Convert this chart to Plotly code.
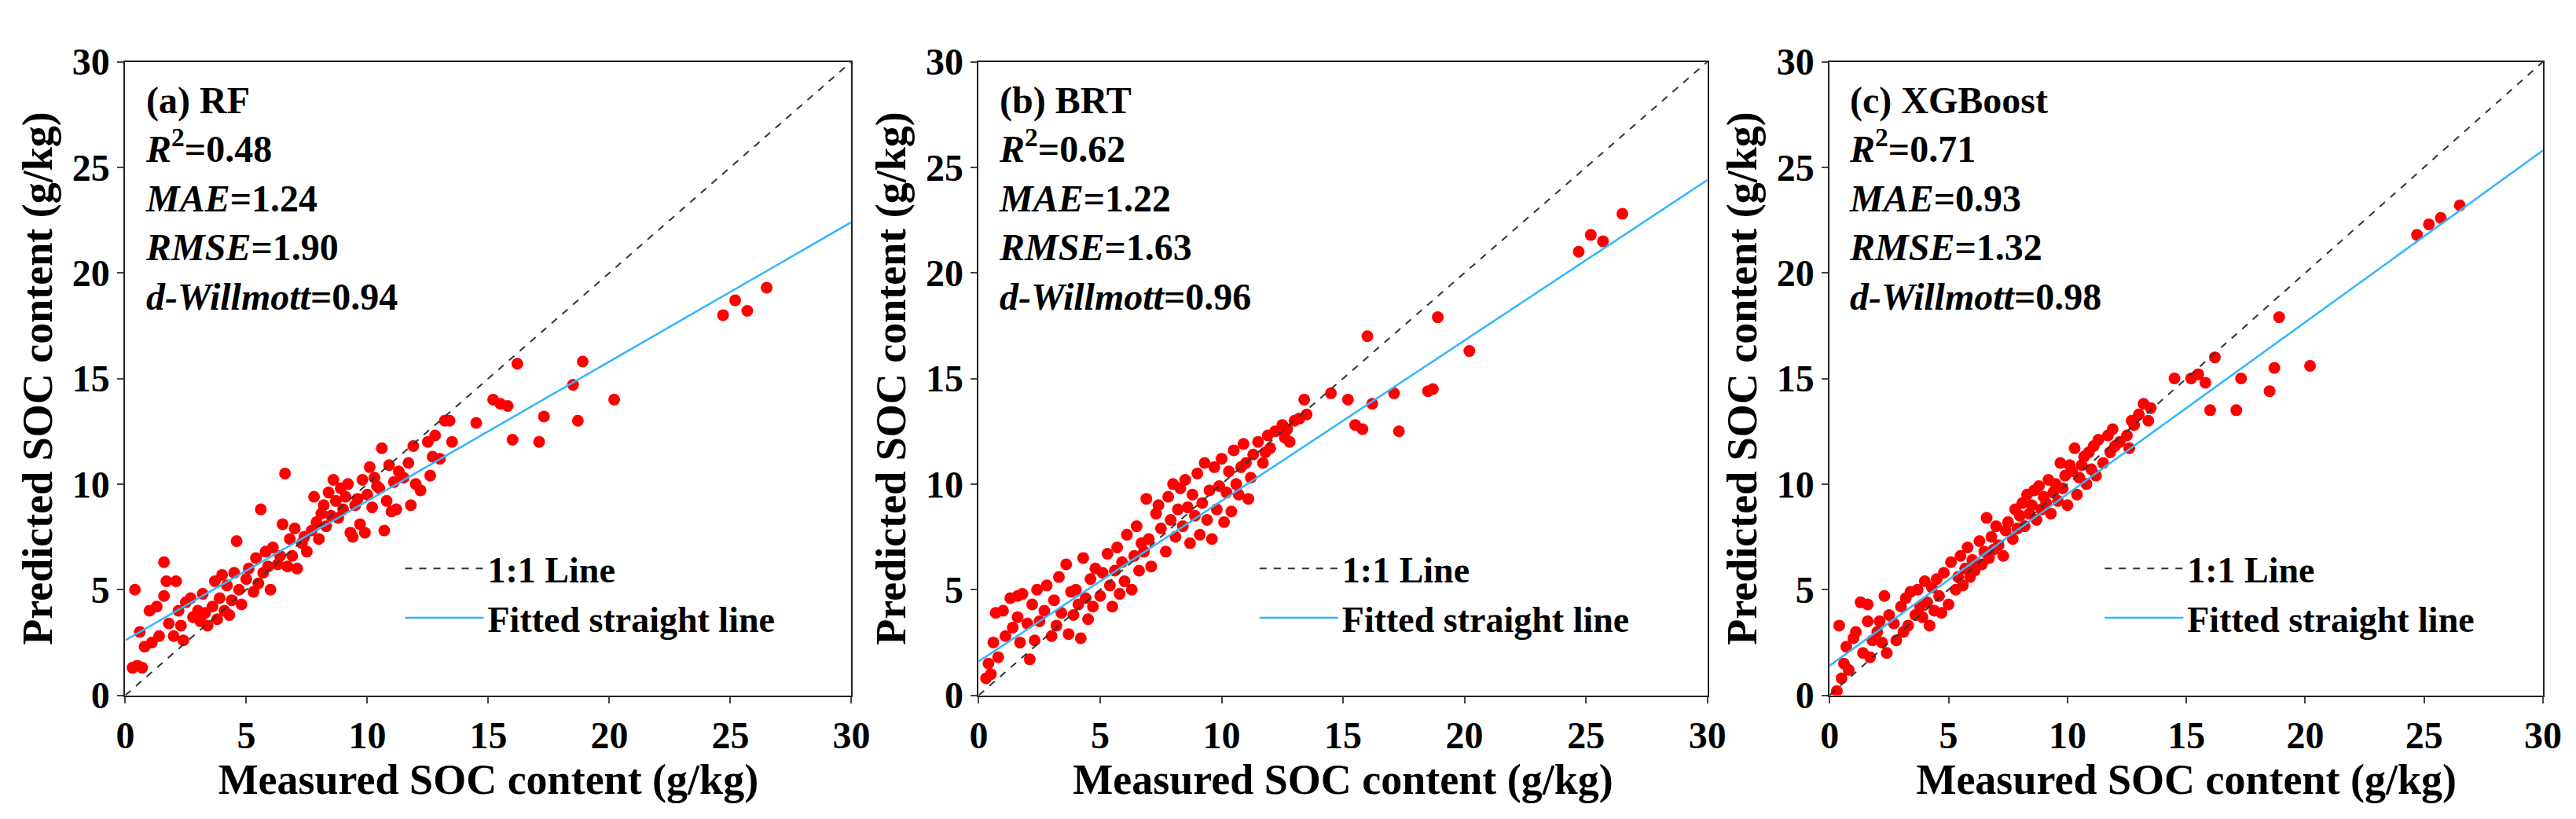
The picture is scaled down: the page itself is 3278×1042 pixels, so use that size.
import plotly.graph_objects as go
from plotly.subplots import make_subplots

# measured SOC (shared test set) and predictions per model
measured = [0.3, 0.4, 0.5, 0.6, 0.7, 0.8, 1.0, 1.1, 1.3, 1.4, 1.6, 1.6, 1.7, 1.8, 2.0, 2.1, 2.2, 2.3, 2.4, 2.5,
            2.7, 2.8, 3.0, 3.1, 3.2, 3.3, 3.4, 3.6, 3.7, 3.8, 3.9, 4.0, 4.1, 4.2, 4.3, 4.4, 4.5, 4.6, 4.7, 4.8,
            5.0, 5.1, 5.3, 5.4, 5.5, 5.6, 5.7, 5.8, 5.9, 6.0, 6.1, 6.3, 6.4, 6.5, 6.6, 6.7, 6.8, 6.9, 7.0, 7.1,
            7.3, 7.4, 7.5, 7.7, 7.8, 7.9, 8.0, 8.1, 8.2, 8.3, 8.4, 8.5, 8.6, 8.7, 8.8, 8.9, 9.0, 9.1, 9.2, 9.3,
            9.4, 9.5, 9.6, 9.7, 9.8, 9.9, 10.0, 10.1, 10.2, 10.3, 10.4, 10.5, 10.6, 10.7, 10.8, 10.9, 11.0, 11.1, 11.2, 11.3,
            11.5, 11.7, 11.8, 11.9, 12.0, 12.2, 12.5, 12.6, 12.7, 12.8, 13.0, 13.2, 13.4, 13.5, 14.5, 15.2, 15.5, 15.8, 16.0, 16.2,
            17.1, 17.3, 18.5, 18.7, 18.9, 20.2, 24.7, 25.2, 25.7, 26.5]
pred_rf = [1.3, 5.0, 1.4, 3.0, 1.3, 2.3, 4.0, 2.5, 4.2, 2.8, 6.3, 4.7, 5.4, 3.4, 2.8, 5.4, 4.0, 3.3, 2.6, 4.4,
           4.6, 3.7, 4.0, 3.5, 4.8, 3.9, 3.3, 4.2, 5.4, 3.6, 4.6, 5.7, 4.0, 5.2, 3.8, 4.5, 5.8, 7.3, 5.0, 4.3,
           5.5, 6.0, 4.9, 6.5, 5.3, 8.8, 5.8, 6.8, 6.1, 5.0, 7.0, 6.2, 6.6, 8.1, 10.5, 6.1, 7.4, 6.6, 7.9, 6.0,
           7.2, 7.5, 6.8, 7.8, 9.4, 8.2, 7.4, 8.6, 9.0, 8.0, 9.6, 8.5, 10.2, 9.2, 8.4, 9.8, 8.8, 9.4, 10.0, 7.7,
           7.5, 9.0, 9.3, 8.1, 10.2, 7.7, 9.5, 10.8, 8.9, 10.3, 9.9, 9.8, 11.7, 7.8, 9.2, 10.9, 8.7, 10.1, 8.8, 10.6,
           10.3, 11.0, 9.0, 11.8, 10.0, 9.7, 12.0, 10.4, 11.3, 12.3, 11.2, 13.0, 13.0, 12.0, 12.9, 14.0, 13.8, 13.7, 12.1, 15.7,
           12.0, 13.2, 14.7, 13.0, 15.8, 14.0, 18.0, 18.7, 18.2, 19.3]
pred_brt = [0.8, 1.5, 1.0, 2.5, 3.9, 1.8, 4.0, 2.8, 4.6, 3.2, 4.7, 3.7, 2.5, 4.8, 3.4, 1.7, 4.3, 2.6, 5.0, 3.5,
            4.0, 5.2, 2.8, 4.5, 3.3, 5.6, 3.9, 6.2, 2.9, 4.9, 3.8, 5.0, 4.3, 2.7, 6.5, 4.6, 3.6, 5.5, 4.2, 6.0,
            4.7, 5.8, 6.7, 5.2, 4.2, 5.9, 7.0, 4.8, 6.3, 5.4, 7.6, 5.0, 6.6, 8.0, 5.9, 7.2, 6.8, 9.3, 7.4, 6.1,
            8.6, 9.0, 7.9, 6.8, 9.4, 8.3, 10.0, 7.5, 8.8, 9.8, 8.0, 10.2, 8.9, 7.2, 9.5, 8.5, 10.5, 7.6, 9.1, 11.0,
            8.3, 9.7, 7.4, 10.8, 8.8, 9.9, 11.2, 8.2, 9.6, 10.6, 8.7, 11.6, 10.0, 9.5, 10.8, 11.9, 11.0, 9.3, 10.3, 11.4,
            12.0, 11.0, 11.5, 12.3, 11.7, 12.5, 12.8, 12.2, 12.6, 12.0, 13.0, 13.1, 14.0, 13.3, 14.3, 14.0, 12.8, 12.6, 17.0, 13.8,
            14.3, 12.5, 14.4, 14.5, 17.9, 16.3, 21.0, 21.8, 21.5, 22.8]
pred_xgb = [0.2, 3.3, 0.8, 1.5, 2.3, 1.2, 2.7, 3.0, 4.4, 2.0, 4.3, 3.5, 1.8, 2.6, 3.0, 3.5, 2.5, 4.7, 2.0, 3.8,
            3.4, 2.6, 4.2, 3.0, 4.6, 3.3, 4.9, 3.8, 5.0, 4.2, 3.7, 5.4, 4.4, 3.3, 5.1, 4.0, 5.5, 4.7, 3.9, 5.8,
            4.3, 6.3, 5.0, 5.6, 6.6, 5.2, 6.0, 7.0, 5.6, 6.4, 5.9, 7.3, 6.2, 6.8, 8.4, 6.5, 7.5, 6.9, 8.0, 7.1,
            6.6, 7.8, 8.2, 7.4, 8.8, 7.9, 8.5, 9.1, 8.0, 9.5, 8.6, 9.0, 9.7, 8.3, 9.9, 8.8, 9.4, 9.1, 10.2, 8.6,
            9.6, 10.0, 9.2, 11.0, 9.8, 10.4, 9.0, 10.9, 10.6, 11.7, 9.5, 10.3, 10.9, 11.3, 10.0, 11.5, 10.7, 11.8, 10.4, 12.1,
            11.0, 12.3, 11.5, 12.6, 11.8, 12.0, 12.3, 11.7, 13.0, 12.8, 13.3, 13.8, 13.0, 13.6, 15.0, 15.0, 15.2, 14.8, 13.5, 16.0,
            13.5, 15.0, 14.4, 15.5, 17.9, 15.6, 21.8, 22.3, 22.6, 23.2]

panels = ["(a) RF", "(b) BRT", "(c) XGBoost"]
r2 = ["0.48", "0.62", "0.71"]
mae = ["1.24", "1.22", "0.93"]
rmse = ["1.90", "1.63", "1.32"]
dw = ["0.94", "0.96", "0.98"]
fit_x = [0, 30]
fit_y = [[2.6, 22.4], [1.6, 24.4], [1.4, 25.8]]
preds = [pred_rf, pred_brt, pred_xgb]

FONT = "Liberation Serif"
fig = make_subplots(rows=1, cols=3)
domains = [[0.043, 0.328], [0.378, 0.664], [0.712, 0.992]]
legends = ["legend", "legend2", "legend3"]

for i in range(3):
    c = i + 1
    fig.add_trace(go.Scatter(x=measured, y=preds[i], mode="markers", showlegend=False,
                             marker=dict(color="#ff0000", size=15)), row=1, col=c)
    fig.add_trace(go.Scatter(x=[0, 30], y=[0, 30], mode="lines", name="<b>1:1 Line</b>", legend=legends[i],
                             line=dict(color="#333333", width=2, dash="dash")), row=1, col=c)
    fig.add_trace(go.Scatter(x=fit_x, y=fit_y[i], mode="lines", name="<b>Fitted straight line</b>",
                             legend=legends[i], line=dict(color="#33b5ff", width=2.5)), row=1, col=c)
    xa = "xaxis" if c == 1 else "xaxis%d" % c
    fig.update_layout({xa: dict(domain=domains[i])})
    fig.update_layout({legends[i]: dict(x=domains[i][0] + 0.38 * (domains[i][1] - domains[i][0]), y=0.34,
                                        xanchor="left", yanchor="top", bgcolor="rgba(0,0,0,0)",
                                        font=dict(family=FONT, size=46, color="black"),
                                        tracegroupgap=0, itemwidth=100)})
    txt = ("<b>%s</b><br><b><i>R</i><sup>2</sup>=%s</b><br><b><i>MAE</i>=%s</b><br>"
           "<b><i>RMSE</i>=%s</b><br><b><i>d-Willmott</i>=%s</b>") % (panels[i], r2[i], mae[i], rmse[i], dw[i])
    xref = "x domain" if c == 1 else "x%d domain" % c
    yref = "y domain" if c == 1 else "y%d domain" % c
    fig.add_annotation(text=txt, xref=xref, yref=yref, x=0.025, y=0.975, xanchor="left", yanchor="top",
                       showarrow=False, align="left", font=dict(family=FONT, size=48, color="black"))

fig.update_xaxes(range=[0, 30], tickvals=[0, 5, 10, 15, 20, 25, 30], showline=True, mirror=True,
                 linecolor="#222222", linewidth=2, ticks="outside", ticklen=8, tickwidth=2, showgrid=False,
                 zeroline=False, tickfont=dict(family=FONT, size=48, color="black"),
                 title=dict(text="<b>Measured SOC content (g/kg)</b>", standoff=8,
                            font=dict(family=FONT, size=54, color="black")))
fig.update_yaxes(range=[0, 30], tickvals=[0, 5, 10, 15, 20, 25, 30], showline=True, mirror=True,
                 linecolor="#222222", linewidth=2, ticks="outside", ticklen=8, tickwidth=2, showgrid=False,
                 zeroline=False, domain=[0.14, 0.955], tickfont=dict(family=FONT, size=48, color="black"),
                 title=dict(text="<b>Predicted SOC content (g/kg)</b>", standoff=8,
                            font=dict(family=FONT, size=54, color="black")))
fig.update_xaxes(tickfont_weight="bold")
fig.update_yaxes(tickfont_weight="bold")

fig.update_layout(width=3278, height=1042, plot_bgcolor="white", paper_bgcolor="white",
                  margin=dict(l=0, r=0, t=0, b=0))

fig.write_html("out.html")
